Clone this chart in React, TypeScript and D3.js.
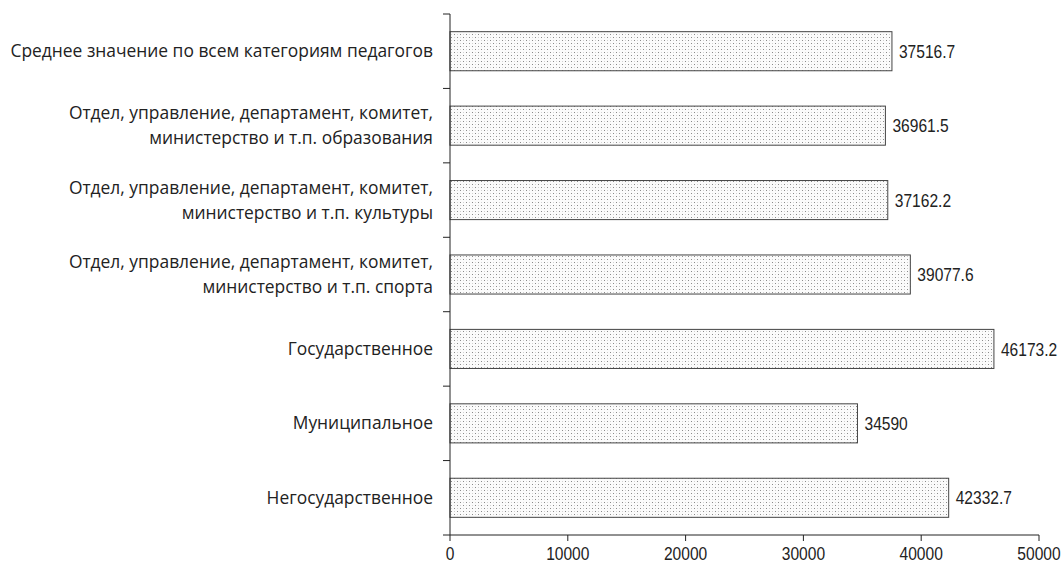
import React from "react";
import * as d3 from "d3";

const categories = [
  ["Среднее значение по всем категориям педагогов"],
  ["Отдел, управление, департамент, комитет,", "министерство и т.п. образования"],
  ["Отдел, управление, департамент, комитет,", "министерство и т.п. культуры"],
  ["Отдел, управление, департамент, комитет,", "министерство и т.п. спорта"],
  ["Государственное"],
  ["Муниципальное"],
  ["Негосударственное"],
];
const values = [37516.7, 36961.5, 37162.2, 39077.6, 46173.2, 34590, 42332.7];
const valueLabels = ["37516.7", "36961.5", "37162.2", "39077.6", "46173.2", "34590", "42332.7"];
const xTicks = [0, 10000, 20000, 30000, 40000, 50000];

const W = 1061;
const H = 567;
const left = 450;
const right = 1039;
const top = 14;
const bottom = 535;

const numFont = "'Liberation Sans', Arial, sans-serif";
const catFont = "'Open Sans', sans-serif";

function NarrowText(props: { x: number; y: number; anchor?: string; children: React.ReactNode }) {
  return (
    <text
      transform={`translate(${props.x},${props.y}) scale(0.82,1)`}
      dy="0.35em"
      textAnchor={props.anchor || "start"}
      fontFamily={numFont}
      fontSize={19}
      fill="#222"
    >
      {props.children}
    </text>
  );
}

export default function App() {
  const x = d3.scaleLinear().domain([0, 50000]).range([left, right]);
  const idx = categories.map((_, i) => String(i));
  const y = d3.scaleBand().domain(idx).range([top, bottom]).paddingInner(0.475).paddingOuter(0.2375);
  const band = (bottom - top) / categories.length;
  return (
    <svg width={W} height={H} style={{ position: "absolute", left: 0, top: 0, background: "#fff" }}>
      <defs>
        <pattern id="dots" width="6" height="6" patternUnits="userSpaceOnUse">
          <rect width="6" height="6" fill="#fbfbfb" />
          <rect x="1" y="1" width="1" height="1" fill="#8a8a8a" />
          <rect x="4" y="4" width="1" height="1" fill="#8a8a8a" />
          <rect x="4" y="1" width="1" height="1" fill="#d2d2d2" />
          <rect x="1" y="4" width="1" height="1" fill="#d2d2d2" />
        </pattern>
      </defs>
      {values.map((v, i) => (
        <g key={i}>
          <rect
            x={x(0)}
            y={y(String(i))!}
            width={x(v) - x(0)}
            height={y.bandwidth()}
            fill="url(#dots)"
            stroke="#444"
            strokeWidth={1}
          />
          <NarrowText x={x(v) + 7} y={y(String(i))! + y.bandwidth() / 2}>
            {valueLabels[i]}
          </NarrowText>
          {categories[i].map((line, j) => (
            <text
              key={j}
              x={left - 17}
              y={y(String(i))! + y.bandwidth() / 2 + (j - (categories[i].length - 1) / 2) * 25}
              dy="0.35em"
              textAnchor="end"
              fontFamily={catFont}
              fontSize={17.4}
              fill="#222"
            >
              {line}
            </text>
          ))}
        </g>
      ))}
      {/* y axis */}
      <line x1={left} x2={left} y1={top} y2={bottom} stroke="#222" strokeWidth={1} />
      {d3.range(categories.length + 1).map((k) => (
        <line key={k} x1={left - 7} x2={left} y1={top + k * band} y2={top + k * band} stroke="#222" />
      ))}
      {/* x axis */}
      <line x1={left} x2={right} y1={bottom} y2={bottom} stroke="#222" />
      {xTicks.map((t) => (
        <g key={t}>
          <line x1={x(t)} x2={x(t)} y1={bottom} y2={bottom + 6} stroke="#222" />
          <NarrowText x={x(t)} y={bottom + 18} anchor="middle">
            {d3.format("d")(t)}
          </NarrowText>
        </g>
      ))}
    </svg>
  );
}
